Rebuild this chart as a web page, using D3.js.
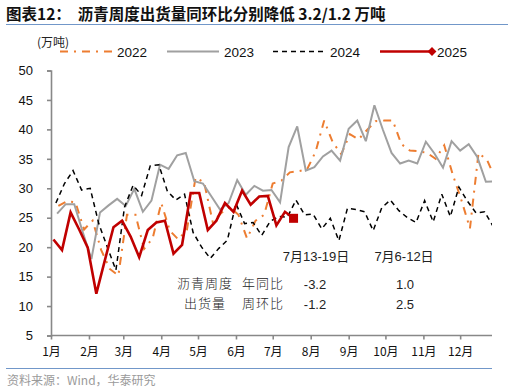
<!DOCTYPE html>
<html><head><meta charset="utf-8">
<script src="https://cdn.jsdelivr.net/npm/d3@7/dist/d3.min.js"></script>
<style>body{margin:0;background:#fff}svg{display:block}</style>
</head><body><svg id="c" width="513" height="392"></svg>
<script>
// ---------------- data ----------------
const monthLabels = ["1月","2月","3月","4月","5月","6月","7月","8月","9月","10月","11月","12月"];
const monthStartDays = [0,31,59,90,120,151,181,212,243,273,304,334];
const yTicks = [5,10,15,20,25,30,35,40,45,50];
const seriesNames = ["2022","2023","2024","2025"];
// day-of-year of the first weekly observation of each year
const startDays = [6,5,4,2];
const v2022 = [27.0,27.8,27.6,23.0,24.5,19.5,16.3,15.2,25.5,25.5,19.7,21.5,27.5,22.8,21.3,23.0,
  31.8,31.0,24.3,25.8,26.8,25.5,21.5,24.5,25.5,30.8,31.3,32.7,32.9,33.2,36.2,41.5,
  37.8,35.8,39.2,38.3,39.9,41.4,41.5,41.5,37.5,36.4,36.3,36.0,35.0,37.3,32.3,28.0,
  23.2,36.0,34.8,31.5];
const v2023 = [25.7,27.3,27.3,22.5,18.0,25.9,27.1,28.2,27.0,29.9,26.0,27.9,34.0,33.3,35.6,36.0,
  31.2,30.8,28.6,26.4,27.5,31.4,28.9,30.4,29.6,29.7,27.6,37.0,40.5,33.0,33.6,35.4,
  36.4,34.7,40.1,41.5,38.0,44.1,39.9,36.0,34.2,34.7,34.2,37.9,35.9,33.5,38.0,36.4,
  37.5,35.3,31.1,31.2];
const v2024 = [27.5,30.8,33.0,29.7,30.0,24.0,20.0,16.1,26.8,30.5,28.8,33.8,34.0,29.5,28.0,29.0,
  22.5,20.0,18.1,19.8,21.2,27.4,24.0,24.2,22.0,24.4,25.2,25.1,28.0,25.5,25.6,23.1,
  24.9,21.1,26.6,26.4,26.0,22.8,26.7,28.0,26.2,25.0,24.2,27.9,24.3,29.0,25.2,30.2,
  27.8,25.8,26.0,23.5];
const v2025 = [21.3,19.5,25.9,23.0,19.9,12.1,17.8,23.4,24.5,21.8,18.3,22.9,24.2,24.5,18.9,20.4,
  29.2,29.2,22.9,24.5,27.5,26.0,29.6,27.2,28.6,28.7,23.7,26.0,24.9];
const seriesValues = [v2022, v2023, v2024, v2025];
const titleText = "图表12：  沥青周度出货量同环比分别降低 3.2/1.2 万吨";
const unitText = "(万吨)";
const sourceText = "资料来源：Wind，华泰研究";
const tableHeaders = ["7月13-19日","7月6-12日"];
const tableRowNames = [["沥青周度","出货量"],["年同比","周环比"]];
const tableValues = [["-3.2","1.0"],["-1.2","2.5"]];

// ---------------- styles ----------------
const styles = [
  {color:"#ED7D31", width:2, dash:"8,6,2,6"},
  {color:"#A0A0A0", width:2, dash:null},
  {color:"#000000", width:1.5, dash:"5,4"},
  {color:"#C00000", width:2.6, dash:null}
];
const sans = "'Liberation Sans', Arial, 'Noto Sans CJK SC', sans-serif";
const cjk = "'Noto Sans CJK SC', sans-serif";

const svg = d3.select("#c");
const x = d3.scaleLinear().domain([0, 360]).range([51, 492]);
const y = d3.scaleLinear().domain([5, 50]).range([335.5, 70.5]);

// title
svg.append("text").attr("x", 6).attr("y", 20)
  .style("font-family", cjk).style("font-weight", 700).style("font-size", "15.5px")
  .attr("fill", "#111").attr("xml:space","preserve").text(titleText);
svg.append("line").attr("x1", 6).attr("x2", 508).attr("y1", 24.5).attr("y2", 24.5)
  .attr("stroke", "#7197C9").attr("stroke-width", 1.2);
svg.append("line").attr("x1", 6).attr("x2", 492).attr("y1", 368.5).attr("y2", 368.5)
  .attr("stroke", "#7197C9").attr("stroke-width", 1.2);
svg.append("text").attr("x", 7).attr("y", 384.5)
  .style("font-family", cjk).style("font-size", "12px").attr("fill", "#9a9a9a").text(sourceText);

// unit
svg.append("text").attr("x", 37).attr("y", 47)
  .style("font-family", cjk).style("font-size", "12px").attr("fill", "#222").text(unitText);

// y axis
const yAxis = svg.append("g").attr("transform", "translate(51,0)")
  .call(d3.axisLeft(y).tickValues(yTicks).tickSize(4).tickPadding(14).tickFormat(d3.format("d")));
yAxis.selectAll("path,line").attr("stroke", "#888").attr("stroke-width", 1.6);
yAxis.selectAll("text").style("font-family", sans).style("font-size", "13px").attr("fill", "#111");

// x axis
const xAxis = svg.append("g").attr("transform", "translate(0,335.5)")
  .call(d3.axisBottom(x).tickValues(monthStartDays).tickSize(4).tickPadding(8)
    .tickFormat((d, i) => monthLabels[i]));
xAxis.select("path").attr("d", `M${x(0)},0H${x(360)}`);
xAxis.selectAll("path,line").attr("stroke", "#888").attr("stroke-width", 1.6);
xAxis.selectAll("text").style("font-family", cjk).style("font-size", "12px").attr("fill", "#111");

// clip
svg.append("clipPath").attr("id", "clip").append("rect")
  .attr("x", 51).attr("y", 0).attr("width", 441).attr("height", 392);

const plot = svg.append("g").attr("clip-path", "url(#clip)");
const line = d3.line().x(d => x(d.day)).y(d => y(d.v));
seriesValues.forEach((vals, k) => {
  const pts = vals.map((v, i) => ({day: startDays[k] + 7 * i, v}));
  const st = styles[k];
  const p = plot.append("path").datum(pts).attr("d", line)
    .attr("fill", "none").attr("stroke", st.color).attr("stroke-width", st.width)
    .attr("stroke-linejoin", "miter").attr("stroke-miterlimit", 3);
  if (st.dash) p.attr("stroke-dasharray", st.dash);
  if (k === 3) {
    const last = pts[pts.length - 1];
    plot.append("rect").attr("x", x(last.day) - 4.5).attr("y", y(last.v) - 4.5)
      .attr("width", 9).attr("height", 9).attr("fill", st.color);
  }
});

// legend
const legX = [60, 167, 273, 380];
seriesNames.forEach((name, k) => {
  const st = styles[k];
  const g = svg.append("g");
  const l = g.append("line").attr("x1", legX[k]).attr("x2", legX[k] + 52)
    .attr("y1", 51.5).attr("y2", 51.5).attr("stroke", st.color).attr("stroke-width", st.width);
  if (st.dash) l.attr("stroke-dasharray", st.dash);
  if (k === 3) {
    g.append("path").attr("d", d3.symbol(d3.symbolDiamond2, 50)())
      .attr("transform", `translate(${legX[k] + 52},51.5)`).attr("fill", st.color);
  }
  g.append("text").attr("x", legX[k] + 57).attr("y", 56.5)
    .style("font-family", sans).style("font-size", "13.5px").attr("fill", "#111").text(name);
});

// table
const tbl = svg.append("g").style("font-size", "13px").attr("fill", "#222");
const colX = [316, 404];
tableHeaders.forEach((t, i) => {
  tbl.append("text").attr("x", colX[i]).attr("y", 261).attr("text-anchor", "middle")
    .style("font-family", sans).text(t);
});
const rowY = [288, 308];
tableRowNames[0].forEach((t, r) => {
  tbl.append("text").attr("x", 205).attr("y", rowY[r]).attr("text-anchor", "middle")
    .style("font-family", cjk).style("letter-spacing", "1px").style("font-weight", 300).text(t);
});
tableRowNames[1].forEach((t, r) => {
  tbl.append("text").attr("x", 263).attr("y", rowY[r]).attr("text-anchor", "middle")
    .style("font-family", cjk).style("letter-spacing", "1px").style("font-weight", 300).text(t);
});
tableValues.forEach((row, r) => {
  row.forEach((t, c) => {
    tbl.append("text").attr("x", colX[c] + (c === 0 ? -1 : 1)).attr("y", rowY[r] + 1)
      .attr("text-anchor", "middle").style("font-family", sans).text(t);
  });
});
</script></body></html>
